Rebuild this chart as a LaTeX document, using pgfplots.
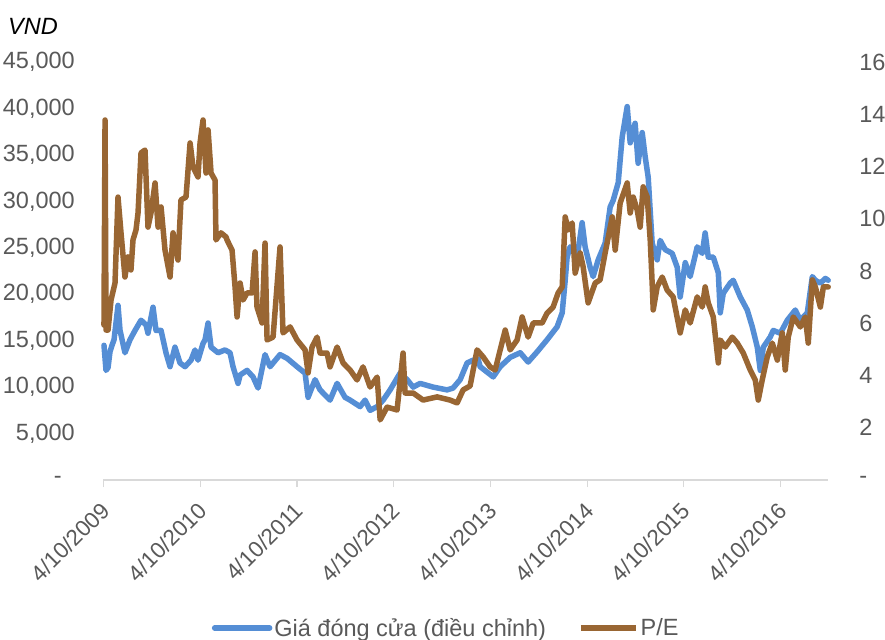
\documentclass[border=0pt]{standalone}
\usepackage{pgfplots}
\pgfplotsset{compat=1.18}
\usepackage{fontspec}
\setmainfont{Liberation Sans}
\definecolor{cblue}{RGB}{85,142,213}
\definecolor{cbrown}{RGB}{153,102,51}
\definecolor{ctext}{RGB}{89,89,89}
\definecolor{cgrid}{RGB}{217,217,217}
\newcommand\lbl{\fontsize{23.5bp}{27bp}\selectfont}
\newcommand\xlbl{\fontsize{22.5bp}{26bp}\selectfont}
\begin{document}
\begin{tikzpicture}
\pgfplotsset{
  common/.style={
    scale only axis, width=724.5bp, height=418bp,
    xmin=0, xmax=7.49, ymin=0,
    tick label style={font=\lbl, text=ctext},
    scaled y ticks=false, scaled x ticks=false,
    /pgf/number format/assume math mode=true,
    clip=false,
  },
}
\begin{axis}[common,
  ymax=45000,
  axis x line=bottom, axis y line=left,
  x axis line style={draw=cgrid, line width=1.5bp, -},
  y axis line style={draw=none},
  xtick={0,1,2,3,4,5,6,7},
  xticklabels={4/10/2009,4/10/2010,4/10/2011,4/10/2012,4/10/2013,4/10/2014,4/10/2015,4/10/2016},
  xtick style={draw=cgrid, line width=1.2bp},
  tick align=outside, major tick length=7bp,
  ytick style={draw=none},
  xticklabel style={font=\xlbl, xshift=-3.8bp, yshift=-13.5bp, rotate=45, anchor=north east, inner sep=0pt},
  ytick={0,5000,10000,15000,20000,25000,30000,35000,40000,45000},
  yticklabels={{-\hspace*{13bp}},{5,000},{10,000},{15,000},{20,000},{25,000},{30,000},{35,000},{40,000},{45,000}},
  yticklabel style={anchor=east, inner sep=0pt, xshift=-21.5bp},
  legend style={at={(0.473,-0.354)}, anchor=center, draw=none, fill=none,
    font=\lbl, text=ctext, legend columns=2,
    /tikz/every even column/.append style={column sep=30bp},
    nodes={inner sep=2bp}},
  legend image code/.code={\draw[#1] (0bp,0bp) -- (55bp,0bp);},
]
\addplot[cblue, line width=5.5bp, line join=round, line cap=round] table {
0.005 14500
0.026 11800
0.047 12100
0.067 13800
0.088 14500
0.109 15100
0.150 18800
0.171 16100
0.222 13700
0.274 15100
0.326 16100
0.388 17200
0.440 16700
0.460 15800
0.512 18600
0.543 16100
0.595 16100
0.646 13700
0.688 12200
0.739 14300
0.791 12600
0.843 12200
0.905 12900
0.946 14000
0.977 12900
1.029 14700
1.050 15100
1.081 16900
1.112 14300
1.184 13700
1.256 14000
1.308 13700
1.339 12200
1.391 10400
1.412 11300
1.484 11800
1.546 11100
1.598 9900
1.670 13500
1.722 12200
1.825 13500
1.898 13100
2.001 12200
2.084 11500
2.115 8900
2.187 10800
2.239 9700
2.342 8600
2.415 10400
2.497 8900
2.549 8600
2.653 7900
2.704 8600
2.756 7500
2.829 7900
2.891 8600
2.963 9700
3.066 11500
3.139 10800
3.201 10000
3.273 10400
3.408 10000
3.552 9700
3.614 9900
3.687 10800
3.759 12600
3.821 12900
3.873 13000
3.894 12200
4.029 11100
4.101 12200
4.204 13200
4.308 13700
4.390 12700
4.483 13800
4.586 15100
4.690 16500
4.742 18000
4.773 21500
4.793 24000
4.824 25100
4.897 24000
4.948 27700
4.979 25100
5.031 22900
5.062 21900
5.114 23700
5.186 25500
5.238 29400
5.269 30100
5.321 32000
5.362 36900
5.414 40200
5.445 36300
5.496 38400
5.527 34100
5.569 37400
5.600 34800
5.631 32600
5.672 25500
5.724 23700
5.755 25800
5.807 24800
5.879 24400
5.931 22900
5.962 19700
6.014 23400
6.065 21900
6.138 25100
6.190 24400
6.220 26600
6.252 24000
6.304 24000
6.356 22300
6.376 18000
6.407 20100
6.479 21200
6.510 21500
6.583 19700
6.655 18300
6.707 16500
6.759 14300
6.790 11800
6.821 14300
6.893 15400
6.924 16100
6.997 15800
7.069 17200
7.152 18300
7.204 17200
7.276 18000
7.328 21900
7.359 21500
7.411 21200
7.463 21700
7.492 21500
};
\addlegendentry{Giá đóng cửa (điều chỉnh)}
\addlegendimage{cbrown, line width=5.5bp}
\addlegendentry{P/E}
\end{axis}
\begin{axis}[common,
  ymax=16,
  axis x line=none, axis y line=right,
  y axis line style={draw=none},
  ytick style={draw=none},
  ytick={0,2,4,6,8,10,12,14,16},
  yticklabels={-,2,4,6,8,10,12,14,16},
  yticklabel style={anchor=west, inner sep=0pt, xshift=29bp},
]
\addplot[cbrown, line width=5.5bp, line join=round, line cap=round] table {
0.005 5.93
0.016 13.78
0.026 5.74
0.047 5.74
0.078 6.89
0.119 7.54
0.150 10.83
0.181 9.46
0.222 7.77
0.253 8.54
0.284 8.04
0.305 9.19
0.336 9.57
0.357 10.22
0.388 12.52
0.429 12.63
0.460 9.68
0.491 10.22
0.533 11.37
0.564 9.68
0.595 10.45
0.636 8.80
0.688 7.77
0.719 9.46
0.770 8.42
0.801 10.72
0.853 10.83
0.895 12.90
0.926 11.98
0.977 11.60
0.998 12.90
1.029 13.78
1.060 11.75
1.081 13.40
1.112 11.75
1.153 11.48
1.163 9.19
1.215 9.46
1.267 9.30
1.277 9.19
1.329 8.80
1.360 7.39
1.381 6.24
1.412 7.54
1.443 6.89
1.484 7.16
1.536 7.16
1.567 8.73
1.587 6.62
1.639 6.01
1.670 9.07
1.691 5.36
1.753 5.47
1.825 8.92
1.856 5.63
1.929 5.86
2.001 5.36
2.084 4.98
2.115 4.10
2.156 5.09
2.208 5.47
2.239 4.86
2.311 4.86
2.342 4.33
2.415 5.09
2.477 4.48
2.549 4.21
2.621 3.83
2.683 4.33
2.756 3.56
2.829 3.94
2.860 2.30
2.932 2.79
3.035 2.68
3.097 4.86
3.118 3.33
3.201 3.33
3.304 3.06
3.449 3.18
3.583 3.06
3.656 2.95
3.718 3.45
3.790 3.60
3.862 4.98
3.925 4.71
3.997 4.33
4.049 4.21
4.101 4.98
4.153 5.74
4.204 4.98
4.276 5.36
4.328 6.24
4.390 5.47
4.442 6.01
4.535 6.01
4.586 6.39
4.648 6.62
4.700 7.16
4.742 7.39
4.773 10.07
4.804 9.57
4.845 9.84
4.876 7.92
4.928 8.69
4.959 8.15
5.010 6.78
5.083 7.54
5.134 7.66
5.186 8.69
5.259 10.07
5.290 8.80
5.341 10.60
5.414 11.37
5.445 10.22
5.476 10.83
5.517 10.34
5.548 9.68
5.579 11.22
5.621 10.83
5.652 9.19
5.672 7.54
5.683 6.51
5.724 7.39
5.776 7.77
5.827 7.27
5.889 7.01
5.962 5.63
6.014 6.51
6.065 6.01
6.138 7.01
6.190 6.62
6.220 7.39
6.252 6.78
6.304 6.24
6.356 4.48
6.376 5.36
6.428 5.09
6.500 5.47
6.552 5.24
6.614 4.86
6.686 4.21
6.738 3.83
6.769 3.06
6.810 3.83
6.862 4.71
6.914 5.24
6.966 4.59
7.017 5.63
7.048 4.21
7.079 5.47
7.131 6.24
7.204 5.86
7.255 6.24
7.286 5.24
7.328 7.66
7.359 7.39
7.411 6.62
7.442 7.39
7.492 7.39
};
\end{axis}
\node[anchor=west, inner sep=0pt, font=\lbl\itshape] at (-95.5bp,454bp) {VND};
\pgfresetboundingbox
\path (-103.5bp,-160bp) rectangle (781.5bp,480bp);
\end{tikzpicture}
\end{document}
